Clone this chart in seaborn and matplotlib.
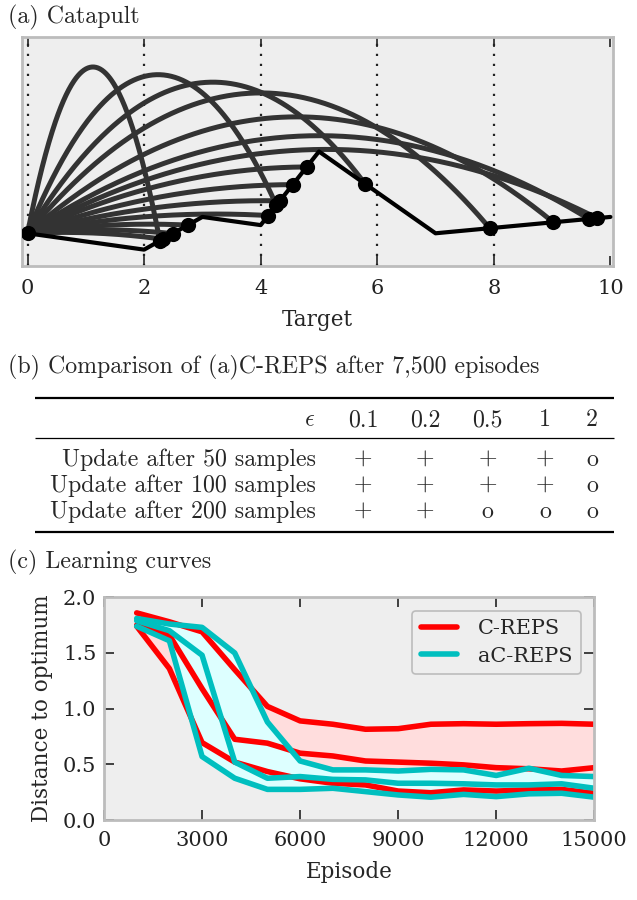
import numpy as np
import pandas as pd
import seaborn as sns
import matplotlib
matplotlib.use("Agg")
import matplotlib.pyplot as plt
from matplotlib.lines import Line2D

# -------------------------------
# Data
# -------------------------------

# (a) catapult: terrain polyline, launch angles (deg) and where each shot lands
terrain_x = [0, 2, 3, 4, 5, 7, 10]
terrain_y = [1.0, 0.5, 1.5, 1.25, 3.5, 1.0, 1.5]
launch_angles = [83.7, 77, 71, 65, 57, 50, 45, 40, 33, 26, 20, 15, 10, 5]
landing_x = [2.27, 4.27, 5.79, 7.93, 9.02, 9.63, 9.77,
             4.79, 4.55, 4.33, 4.13, 2.75, 2.49, 2.32]

# (b) comparison table
eps_values = ["0.1", "0.2", "0.5", "1", "2"]
row_labels = ["Update after 50 samples", "Update after 100 samples",
              "Update after 200 samples"]
table_marks = [["+", "+", "+", "+", "o"],
               ["+", "+", "+", "+", "o"],
               ["+", "+", "o", "o", "o"]]

# (c) learning curves
episodes = [1000, 2000, 3000, 4000, 5000, 6000, 7000, 8000,
            9000, 10000, 11000, 12000, 13000, 14000, 15000]
creps_upper = [1.86, 1.78, 1.69, 1.35, 1.02, 0.89, 0.86, 0.815,
               0.82, 0.86, 0.865, 0.86, 0.865, 0.868, 0.86]
creps_mid = [1.75, 1.66, 1.18, 0.725, 0.69, 0.60, 0.575, 0.53,
             0.52, 0.51, 0.495, 0.47, 0.46, 0.44, 0.47]
creps_lower = [1.74, 1.36, 0.695, 0.52, 0.435, 0.37, 0.33, 0.315,
               0.26, 0.245, 0.27, 0.26, 0.27, 0.275, 0.24]
acreps_upper = [1.81, 1.76, 1.73, 1.50, 0.88, 0.53, 0.45, 0.45,
                0.44, 0.455, 0.45, 0.40, 0.465, 0.40, 0.39]
acreps_mid = [1.79, 1.70, 1.48, 0.52, 0.375, 0.39, 0.365, 0.36,
              0.33, 0.33, 0.325, 0.315, 0.315, 0.325, 0.285]
acreps_lower = [1.74, 1.61, 0.57, 0.375, 0.275, 0.275, 0.285, 0.255,
                0.225, 0.205, 0.23, 0.21, 0.235, 0.24, 0.205]

# -------------------------------
# Style
# -------------------------------
sns.set_theme(style="ticks", rc={
    "axes.facecolor": "#eeeeee",
    "axes.edgecolor": "#bcbcbc",
    "axes.linewidth": 2,
    "xtick.direction": "in",
    "ytick.direction": "in",
    "xtick.color": "#222222",
    "ytick.color": "#222222",
    "mathtext.fontset": "cm",
})
plt.rcParams["font.family"] = ["DejaVu Serif"]
FS = 15
LABEL_FS = 15.5
TITLE_FS = 17.2

fig = plt.figure(figsize=(6.37, 9.0), dpi=100)

# -------------------------------
# (a) Catapult
# -------------------------------
ax_a = fig.add_axes([21.7 / 637, 1 - 266 / 900, (613.3 - 21.7) / 637, (266 - 37) / 900])

y0 = terrain_y[0]
rows = []
for i, (ang, xl) in enumerate(zip(launch_angles, landing_x)):
    t = np.tan(np.radians(ang))
    yl = np.interp(xl, terrain_x, terrain_y)
    c = (y0 + xl * t - yl) / xl ** 2
    xs = np.linspace(0, xl, 200)
    for xv in xs:
        rows.append((i, xv, y0 + xv * t - c * xv ** 2))
traj = pd.DataFrame(rows, columns=["shot", "x", "y"])

sns.lineplot(data=traj, x="x", y="y", units="shot", estimator=None, sort=False,
             color="#333333", lw=3.6, ax=ax_a, zorder=2)
sns.lineplot(x=terrain_x, y=terrain_y, estimator=None, sort=False,
             color="black", lw=3, ax=ax_a, zorder=3)
land_y = np.interp(landing_x, terrain_x, terrain_y)
sns.scatterplot(x=[0] + landing_x, y=[y0] + list(land_y), color="black",
                s=120, edgecolor="black", linewidth=0, ax=ax_a, zorder=4)

ax_a.set_xlim(-0.1, 10.05)
ax_a.set_ylim(0, 7)
ax_a.set_xticks([0, 2, 4, 6, 8, 10])
ax_a.set_yticks([])
ax_a.grid(axis="x", color="#222222", linestyle=(0, (1, 3.5)), lw=1.6)
ax_a.xaxis.get_gridlines()[-1].set_visible(False)
ax_a.tick_params(axis="x", top=True, bottom=True, length=7.5, width=1.2,
                 labelsize=FS, pad=9)
ax_a.set_xlabel("Target", fontsize=LABEL_FS, labelpad=8)
ax_a.set_ylabel("")

# -------------------------------
# (c) Learning curves
# -------------------------------
ax_c = fig.add_axes([104 / 637, 1 - 820 / 900, (594.3 - 104) / 637, (820 - 597.3) / 900])

curves = pd.DataFrame({
    "episode": episodes * 6,
    "distance": creps_upper + creps_mid + creps_lower
    + acreps_upper + acreps_mid + acreps_lower,
    "method": ["C-REPS"] * 45 + ["aC-REPS"] * 45,
    "band": (["upper"] * 15 + ["mid"] * 15 + ["lower"] * 15) * 2,
})

ax_c.fill_between(episodes, creps_lower, creps_upper, color="#ffdddd", lw=0, zorder=1)
ax_c.fill_between(episodes, acreps_lower, acreps_upper, color="#ddffff", lw=0, zorder=1.1)
sns.lineplot(data=curves[curves["method"] == "C-REPS"], x="episode", y="distance",
             units="band", estimator=None, color="#ff0000", lw=4, ax=ax_c, zorder=2)
sns.lineplot(data=curves[curves["method"] == "aC-REPS"], x="episode", y="distance",
             units="band", estimator=None, color="#00bfbf", lw=4, ax=ax_c, zorder=2.1)

ax_c.set_xlim(0, 15000)
ax_c.set_ylim(0, 2.0)
ax_c.set_xticks([0, 3000, 6000, 9000, 12000, 15000])
ax_c.set_yticks([0.0, 0.5, 1.0, 1.5, 2.0])
ax_c.set_yticklabels(["0.0", "0.5", "1.0", "1.5", "2.0"])
ax_c.tick_params(axis="both", top=True, right=True, length=7.5, width=1.2,
                 labelsize=FS, pad=5.5)
ax_c.tick_params(axis="x", pad=8)
ax_c.set_xlabel("Episode", fontsize=LABEL_FS, labelpad=8)
ax_c.set_ylabel("Distance to optimum", fontsize=LABEL_FS, labelpad=7)

handles = [Line2D([], [], color="#ff0000", lw=4), Line2D([], [], color="#00bfbf", lw=4)]
leg = ax_c.legend(handles, ["C-REPS", "aC-REPS"], loc="upper right", fontsize=FS,
                  handlelength=1.75, handletextpad=1.0, labelspacing=0.4,
                  frameon=True, fancybox=True, borderpad=0.4, borderaxespad=0.65)
leg.get_frame().set_facecolor("#eeeeee")
leg.get_frame().set_edgecolor("#bcbcbc")
leg.get_frame().set_linewidth(1.2)
leg.get_frame().set_alpha(1)

# -------------------------------
# Titles and (b) table (pixel layout overlay)
# -------------------------------
ax_t = fig.add_axes([0, 0, 1, 1], zorder=-1)
ax_t.set_xlim(0, 637)
ax_t.set_ylim(900, 0)
ax_t.axis("off")

cm = dict(family="cmr10", fontsize=TITLE_FS, va="center")
ax_t.text(8, 17, "(a) Catapult", ha="left", **cm)
ax_t.text(8, 367, "(b) Comparison of (a)C-REPS after 7,500 episodes", ha="left", **cm)
ax_t.text(8, 562, "(c) Learning curves", ha="left", **cm)

ax_t.hlines([398, 532], 35, 614, color="black", lw=1.6)
ax_t.hlines([438], 35, 614, color="black", lw=0.9)

col_x = [363, 425, 487.5, 545, 592]
ax_t.text(315, 420, r"$\epsilon$", ha="right", fontsize=TITLE_FS, va="center")
for cx, ev in zip(col_x, eps_values):
    ax_t.text(cx, 420, ev, ha="center", **cm)
for r, (lab, marks) in enumerate(zip(row_labels, table_marks)):
    ry = 460 + 26 * r
    ax_t.text(316, ry, lab, ha="right", **cm)
    for cx, mk in zip(col_x, marks):
        ax_t.text(cx, ry, mk, ha="center", **cm)

fig.savefig("out.png", dpi=100)
